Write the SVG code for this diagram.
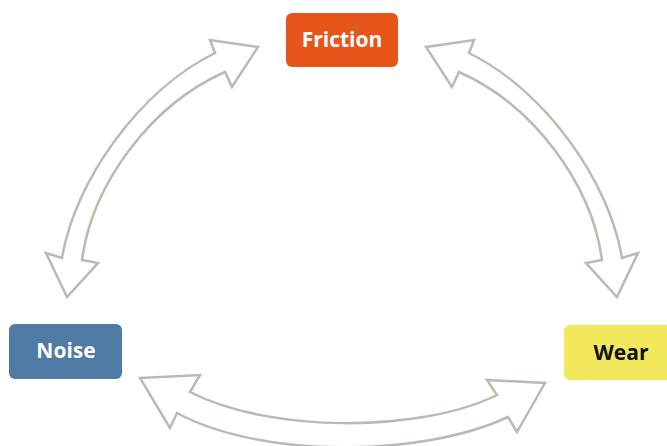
<svg xmlns="http://www.w3.org/2000/svg" width="667" height="446" viewBox="0 0 667 446">
<style>
.lbl{font-family:"Open Sans","Liberation Sans",sans-serif;font-weight:bold;font-size:21px;text-anchor:middle}
.arr{fill:#fff;stroke:#BDB8B2;stroke-width:2.5;stroke-linejoin:miter}
</style>
<rect width="667" height="446" fill="#fff"/>
<g id="connectors">
<path class="arr" d="M258,47 L210,40 L215,53 C140,90 75,180 62,258 L46,253 L67,297 L98,263 L82,260 C92,185 150,105 225,72 L232,87 Z"/>
<path class="arr" d="M426,47 L474,40 L469,53 C544,90 609,180 622,258 L638,253 L617,297 L586,263 L602,260 C592,185 534,105 459,72 L452,87 Z"/>
<path class="arr" d="M140,378 L200,375 L190,392 C270,433 420,433 497,395 L487,380 L545,383 L517,432 L508,417 C420,458 260,458 177,413 L170,428 Z"/>
</g>
<g id="friction">
<rect x="286" y="13" width="112" height="54" rx="6" fill="#E6561A"/>
<text class="lbl" x="342" y="47" fill="#fff">Friction</text>
</g>
<g id="noise">
<rect x="9" y="324" width="113" height="55" rx="6" fill="#4E7AA3"/>
<text class="lbl" x="66" y="358" fill="#fff">Noise</text>
</g>
<g id="wear">
<rect x="564" y="325" width="114" height="55" rx="6" fill="#F2E85C"/>
<text class="lbl" x="621" y="360" fill="#111">Wear</text>
</g>
</svg>
